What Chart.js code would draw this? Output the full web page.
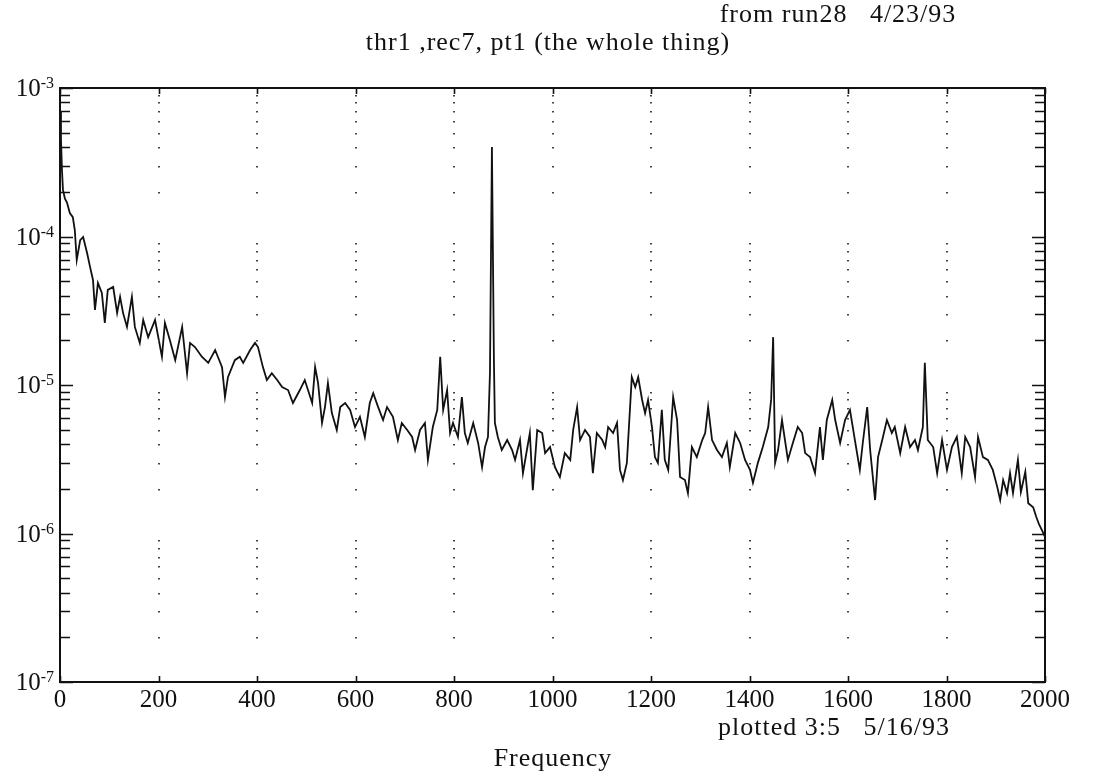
<!DOCTYPE html>
<html>
<head>
<meta charset="utf-8">
<script src="https://cdn.jsdelivr.net/npm/chart.js@4/dist/chart.umd.min.js"></script>
<style>
  html, body { margin: 0; padding: 0; background: #fff; }
  #wrap { width: 1099px; height: 777px; }
</style>
</head>
<body>
<div id="wrap"><canvas id="c" width="1099" height="777"></canvas></div>
<script>
// Spectrum of thr1, rec7, pt1 (frequency in Hz, power per bin)
const freq = [
  0, 2, 4, 6, 10, 14, 20, 26, 30, 34, 41, 47, 55, 61, 67, 71, 77, 85, 91, 97,
  108, 116, 122, 128, 136, 146, 152, 162, 169, 179, 193, 207, 213, 223, 234, 248, 258, 264, 274, 288,
  301, 315, 329, 335, 341, 355, 365, 372, 386, 396, 402, 412, 420, 430, 441, 451, 463, 473, 487, 497,
  512, 518, 524, 532, 538, 544, 552, 562, 569, 579, 589, 599, 609, 619, 629, 636, 646, 656, 664, 676,
  686, 694, 705, 715, 721, 731, 741, 747, 757, 766, 772, 778, 786, 792, 798, 808, 816, 822, 828, 839,
  849, 857, 863, 869, 873, 877, 881, 883, 889, 897, 908, 918, 924, 934, 940, 948, 954, 960, 969, 979,
  985, 995, 1005, 1015, 1025, 1036, 1042, 1050, 1056, 1066, 1076, 1082, 1090, 1101, 1107, 1113, 1123, 1131, 1137, 1143,
  1151, 1161, 1168, 1174, 1182, 1188, 1194, 1202, 1208, 1214, 1222, 1228, 1235, 1245, 1253, 1259, 1269, 1275, 1283, 1293,
  1304, 1310, 1316, 1324, 1334, 1344, 1354, 1360, 1371, 1381, 1391, 1401, 1407, 1417, 1427, 1438, 1444, 1448, 1452, 1458,
  1466, 1472, 1478, 1488, 1498, 1507, 1513, 1523, 1533, 1543, 1549, 1557, 1568, 1574, 1584, 1594, 1604, 1614, 1624, 1630,
  1639, 1645, 1655, 1661, 1671, 1679, 1689, 1695, 1706, 1716, 1726, 1736, 1742, 1752, 1756, 1762, 1773, 1781, 1791, 1801,
  1811, 1821, 1831, 1838, 1848, 1858, 1864, 1874, 1884, 1894, 1903, 1909, 1915, 1923, 1929, 1935, 1945, 1951, 1960, 1966,
  1976, 1982, 1988, 1994, 2000
];
const psd = [
  7.0e-4, 4.5e-4, 2.8e-4, 2.06e-4, 1.8e-4, 1.7e-4, 1.44e-4, 1.35e-4, 1.11e-4, 6.95e-5, 9.46e-5, 9.93e-5, 7.74e-5, 6.24e-5, 5.1e-5, 3.2e-5, 4.86e-5, 4.17e-5, 2.62e-5, 4.37e-5,
  4.57e-5, 3.06e-5, 3.92e-5, 3.06e-5, 2.46e-5, 3.92e-5, 2.46e-5, 1.92e-5, 2.74e-5, 2.1e-5, 2.74e-5, 1.55e-5, 2.62e-5, 2.01e-5, 1.47e-5, 2.46e-5, 1.2e-5, 1.92e-5, 1.8e-5, 1.55e-5,
  1.41e-5, 1.72e-5, 1.32e-5, 8.3e-6, 1.13e-5, 1.47e-5, 1.55e-5, 1.41e-5, 1.72e-5, 1.92e-5, 1.8e-5, 1.32e-5, 1.08e-5, 1.2e-5, 1.08e-5, 9.7e-6, 9.25e-6, 7.56e-6, 9.25e-6, 1.08e-5,
  7.56e-6, 1.32e-5, 1.03e-5, 5.55e-6, 7.1e-6, 1.03e-5, 6.47e-6, 4.98e-6, 7.1e-6, 7.56e-6, 6.8e-6, 5.21e-6, 6.1e-6, 4.47e-6, 7.56e-6, 8.8e-6, 7.1e-6, 5.81e-6, 7.1e-6, 6.1e-6,
  4.26e-6, 5.55e-6, 4.98e-6, 4.47e-6, 3.65e-6, 4.98e-6, 5.55e-6, 3.13e-6, 5.21e-6, 6.8e-6, 1.55e-5, 6.8e-6, 9.25e-6, 4.75e-6, 5.55e-6, 4.47e-6, 8.3e-6, 4.75e-6, 4.07e-6, 5.55e-6,
  4.07e-6, 2.8e-6, 3.82e-6, 4.47e-6, 1.2e-5, 4.0e-4, 1.5e-5, 5.55e-6, 4.47e-6, 3.65e-6, 4.26e-6, 3.65e-6, 3.13e-6, 4.26e-6, 2.55e-6, 3.65e-6, 4.75e-6, 1.96e-6, 4.98e-6, 4.75e-6,
  3.48e-6, 3.82e-6, 2.8e-6, 2.4e-6, 3.48e-6, 3.13e-6, 4.98e-6, 7.1e-6, 4.26e-6, 4.98e-6, 4.47e-6, 2.55e-6, 4.75e-6, 4.26e-6, 3.82e-6, 5.21e-6, 4.75e-6, 5.55e-6, 2.68e-6, 2.29e-6,
  2.99e-6, 1.13e-5, 9.7e-6, 1.13e-5, 7.93e-6, 6.47e-6, 7.93e-6, 5.21e-6, 3.27e-6, 2.99e-6, 6.8e-6, 3.13e-6, 2.68e-6, 8.3e-6, 5.81e-6, 2.4e-6, 2.29e-6, 1.87e-6, 3.82e-6, 3.27e-6,
  4.26e-6, 4.75e-6, 7.1e-6, 4.26e-6, 3.65e-6, 3.27e-6, 4.07e-6, 2.8e-6, 4.75e-6, 4.07e-6, 3.13e-6, 2.68e-6, 2.19e-6, 2.99e-6, 3.82e-6, 5.21e-6, 8.0e-6, 2.1e-5, 2.99e-6, 3.65e-6,
  5.81e-6, 4.26e-6, 3.13e-6, 4.07e-6, 5.21e-6, 4.75e-6, 3.48e-6, 3.27e-6, 2.55e-6, 5.21e-6, 3.13e-6, 5.81e-6, 7.93e-6, 5.81e-6, 4.07e-6, 5.81e-6, 6.8e-6, 4.26e-6, 2.68e-6, 4.07e-6,
  7.1e-6, 3.65e-6, 1.68e-6, 3.27e-6, 4.47e-6, 5.81e-6, 4.75e-6, 5.21e-6, 3.48e-6, 5.21e-6, 3.82e-6, 4.26e-6, 3.65e-6, 5.21e-6, 1.41e-5, 4.26e-6, 3.82e-6, 2.55e-6, 4.26e-6, 2.68e-6,
  3.82e-6, 4.47e-6, 2.55e-6, 4.47e-6, 3.82e-6, 2.4e-6, 4.47e-6, 3.27e-6, 3.13e-6, 2.68e-6, 2.06e-6, 1.68e-6, 2.29e-6, 1.87e-6, 2.55e-6, 1.87e-6, 3.13e-6, 1.9e-6, 2.6e-6, 1.6e-6,
  1.5e-6, 1.3e-6, 1.15e-6, 1.05e-6, 9.5e-7
];

// Axis ticks
const xTicks = [0, 200, 400, 600, 800, 1000, 1200, 1400, 1600, 1800, 2000];
const yDecadeExponents = [-7, -6, -5, -4, -3];

// Text around the plot
const titleMain = 'thr1 ,rec7, pt1 (the whole thing)';
const titleSource = 'from run28   4/23/93';
const plottedNote = 'plotted 3:5   5/16/93';
const xAxisTitle = 'Frequency';

const SERIF = '"Liberation Serif", "DejaVu Serif", serif';
const INK = '#111';

// Frame, inward tick marks, dotted grid, decade labels and annotation text
const framePlugin = {
  id: 'frame',
  afterDatasetsDraw(chart) {
    const { ctx, chartArea: a, scales: { x, y } } = chart;
    ctx.save();

    // dotted minor grid at the major frequency ticks
    ctx.fillStyle = '#444';
    for (const fx of xTicks.slice(1, -1)) {
      const px = Math.round(x.getPixelForValue(fx));
      for (let e = -7; e < -3; e++) {
        for (let m = 2; m <= 9; m++) {
          const py = Math.round(y.getPixelForValue(m * Math.pow(10, e)));
          ctx.fillRect(px - 1, py, 2, 1.5);
        }
      }
    }

    // plot frame
    ctx.strokeStyle = INK;
    ctx.lineWidth = 2;
    ctx.strokeRect(a.left, a.top, a.right - a.left, a.bottom - a.top);

    // log-axis tick marks on both sides, pointing inward
    ctx.lineWidth = 1.6;
    ctx.beginPath();
    for (let e = -7; e <= -3; e++) {
      for (let m = 1; m <= 9; m++) {
        const v = m * Math.pow(10, e);
        if (v > 1e-3 * 1.0001) break;
        const py = Math.round(y.getPixelForValue(v)) + 0.5;
        const len = m === 1 ? 13 : 10;
        ctx.moveTo(a.left, py); ctx.lineTo(a.left + len, py);
        ctx.moveTo(a.right, py); ctx.lineTo(a.right - len, py);
      }
    }
    // frequency tick marks, top and bottom, pointing inward
    for (const fx of xTicks) {
      const px = Math.round(x.getPixelForValue(fx)) + 0.5;
      ctx.moveTo(px, a.top); ctx.lineTo(px, a.top + 6);
      ctx.moveTo(px, a.bottom); ctx.lineTo(px, a.bottom - 6);
    }
    ctx.stroke();

    // decade labels 10^n
    ctx.fillStyle = INK;
    ctx.textBaseline = 'alphabetic';
    for (const e of yDecadeExponents) {
      const py = y.getPixelForValue(Math.pow(10, e));
      const expText = String(e);
      ctx.font = '16px ' + SERIF;
      ctx.textAlign = 'right';
      const expRight = a.left - 6;
      ctx.fillText(expText, expRight, py + 0);
      const expW = ctx.measureText(expText).width;
      ctx.font = '25px ' + SERIF;
      ctx.fillText('10', expRight - expW, py + 8);
    }

    // annotation text
    ctx.font = '26px ' + SERIF;
    ctx.letterSpacing = '1px';
    ctx.textAlign = 'center';
    ctx.fillText(titleSource, 838, 22);
    ctx.fillText(titleMain, 548, 50);
    ctx.fillText(plottedNote, 834, 735);
    ctx.fillText(xAxisTitle, 553, 766);

    ctx.restore();
  }
};

new Chart(document.getElementById('c'), {
  type: 'line',
  data: {
    datasets: [{
      data: freq.map((f, i) => ({ x: f, y: psd[i] })),
      borderColor: INK,
      borderWidth: 1.8,
      pointRadius: 0,
      tension: 0,
      fill: false
    }]
  },
  options: {
    responsive: false,
    animation: false,
    devicePixelRatio: 1,
    layout: { padding: { top: 88, right: 54, left: 0, bottom: 0 } },
    plugins: { legend: { display: false }, tooltip: { enabled: false }, title: { display: false } },
    scales: {
      x: {
        type: 'linear',
        min: 0,
        max: 2000,
        afterBuildTicks: s => { s.ticks = xTicks.map(v => ({ value: v })); },
        afterFit: s => { s.height = 95; },
        grid: { display: false, drawTicks: false },
        border: { display: false },
        ticks: {
          color: INK,
          font: { family: SERIF, size: 25 },
          padding: 3,
          maxRotation: 0,
          autoSkip: false,
          callback: v => String(v)
        }
      },
      y: {
        type: 'logarithmic',
        min: 1e-7,
        max: 1e-3,
        afterFit: s => { s.width = 60; },
        grid: { display: false, drawTicks: false },
        border: { display: false },
        ticks: { display: false }
      }
    }
  },
  plugins: [framePlugin]
});
</script>
</body>
</html>
